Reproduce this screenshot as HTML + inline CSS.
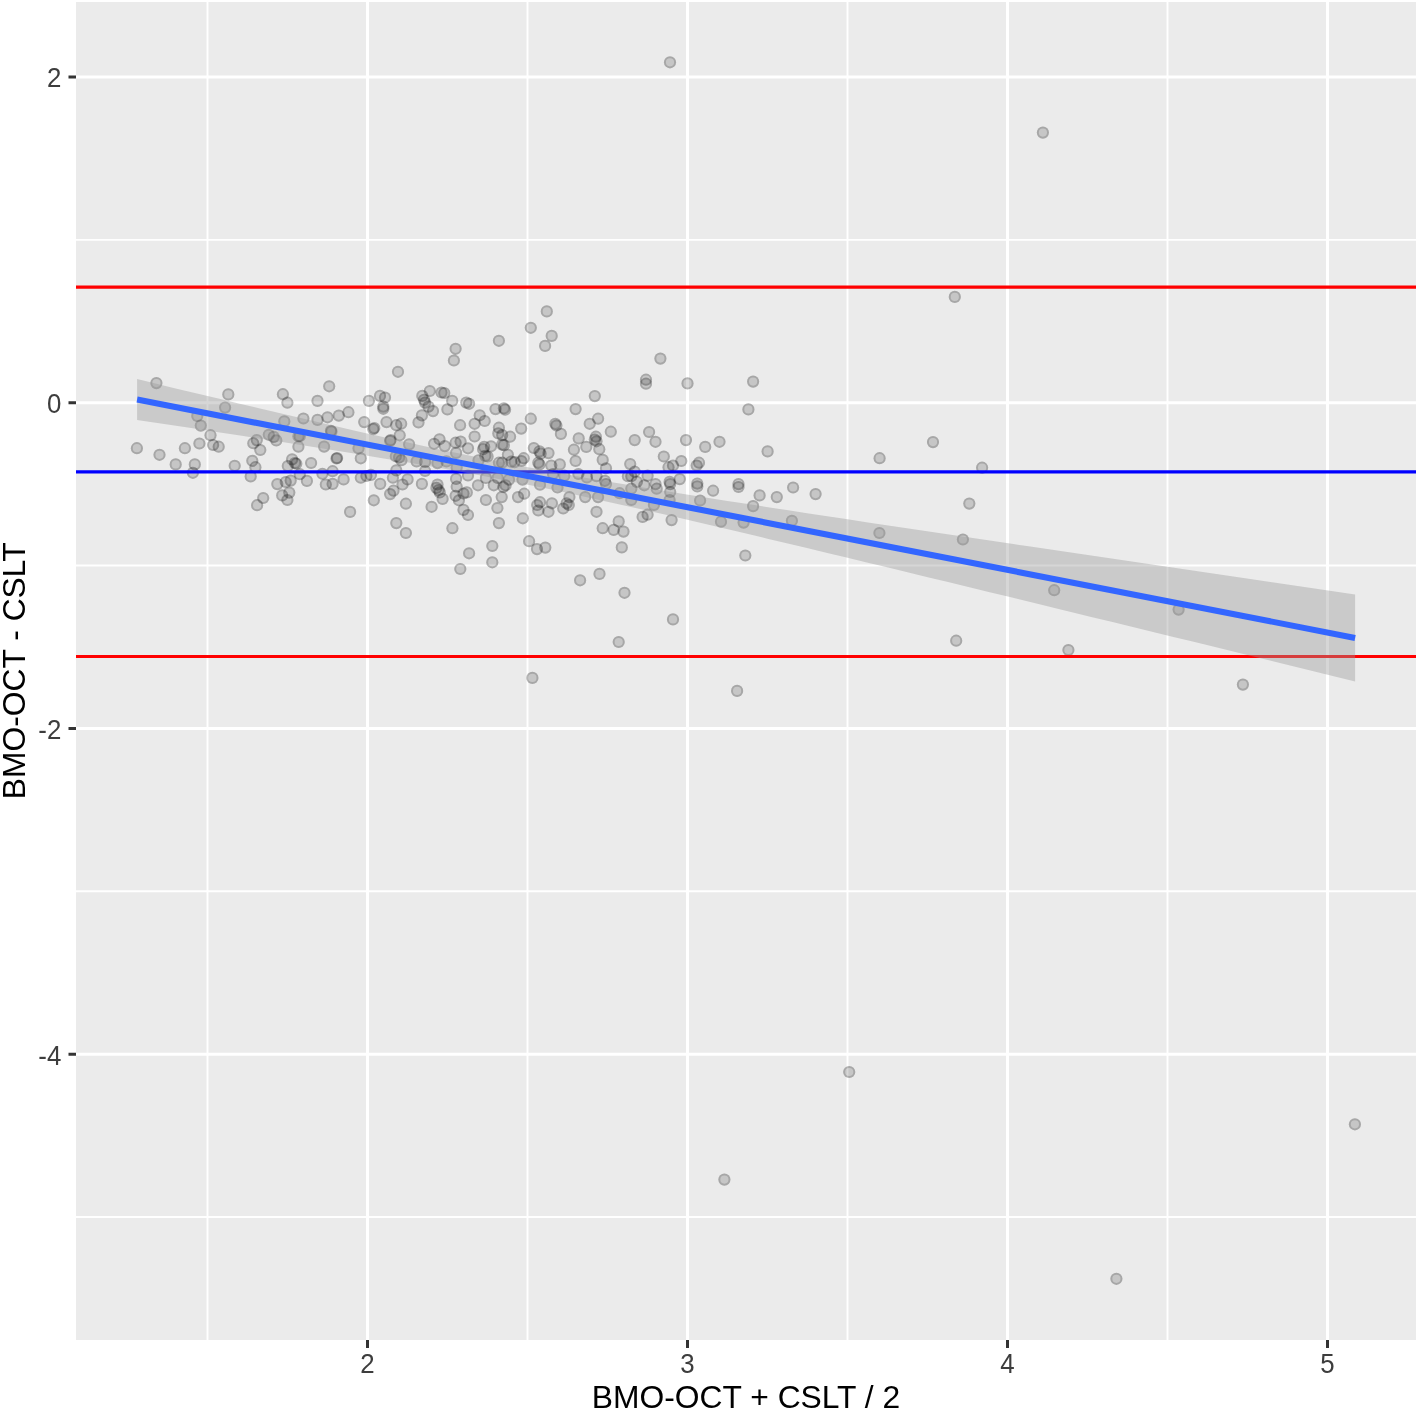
<!DOCTYPE html><html><head><meta charset="utf-8"><style>html,body{margin:0;padding:0;background:#fff;}svg{display:block;}</style></head><body>
<svg width="1418" height="1411" viewBox="0 0 1418 1411" font-family="'Liberation Sans', Arial, sans-serif">
<rect x="0" y="0" width="1418" height="1411" fill="#fff"/>
<defs><clipPath id="cp"><rect x="76" y="2" width="1340" height="1338"/></clipPath></defs>
<rect x="76" y="2" width="1340" height="1338" fill="#EBEBEB"/>
<g clip-path="url(#cp)">
<path d="M207.50 2V1340M527.50 2V1340M847.50 2V1340M1167.50 2V1340M76 239.83H1416M76 565.57H1416M76 891.31H1416M76 1217.05H1416" stroke="#fff" stroke-width="1.9" fill="none"/>
<path d="M367.50 2V1340M687.50 2V1340M1007.50 2V1340M1327.50 2V1340M76 76.96H1416M76 402.70H1416M76 728.44H1416M76 1054.18H1416" stroke="#fff" stroke-width="3" fill="none"/>
<g fill="rgba(0,0,0,0.155)" stroke="none">
<circle cx="156.4" cy="383.1" r="6.1"/>
<circle cx="228.3" cy="394.4" r="6.1"/>
<circle cx="225.1" cy="407.6" r="6.1"/>
<circle cx="282.9" cy="394.2" r="6.1"/>
<circle cx="287.4" cy="402.7" r="6.1"/>
<circle cx="317.5" cy="400.9" r="6.1"/>
<circle cx="197.3" cy="415.9" r="6.1"/>
<circle cx="200.8" cy="425.6" r="6.1"/>
<circle cx="210.5" cy="435.2" r="6.1"/>
<circle cx="199.4" cy="443.5" r="6.1"/>
<circle cx="213.1" cy="445.0" r="6.1"/>
<circle cx="218.7" cy="446.7" r="6.1"/>
<circle cx="136.9" cy="448.2" r="6.1"/>
<circle cx="159.5" cy="454.8" r="6.1"/>
<circle cx="184.9" cy="448.2" r="6.1"/>
<circle cx="175.7" cy="464.4" r="6.1"/>
<circle cx="194.8" cy="464.4" r="6.1"/>
<circle cx="192.9" cy="472.8" r="6.1"/>
<circle cx="234.7" cy="465.8" r="6.1"/>
<circle cx="252.3" cy="460.8" r="6.1"/>
<circle cx="255.4" cy="467.2" r="6.1"/>
<circle cx="250.7" cy="476.4" r="6.1"/>
<circle cx="253.3" cy="443.2" r="6.1"/>
<circle cx="256.8" cy="440.1" r="6.1"/>
<circle cx="260.3" cy="450.0" r="6.1"/>
<circle cx="268.8" cy="434.8" r="6.1"/>
<circle cx="273.7" cy="436.9" r="6.1"/>
<circle cx="276.3" cy="440.4" r="6.1"/>
<circle cx="284.3" cy="421.4" r="6.1"/>
<circle cx="303.4" cy="418.5" r="6.1"/>
<circle cx="298.4" cy="436.2" r="6.1"/>
<circle cx="299.8" cy="436.2" r="6.1"/>
<circle cx="298.4" cy="446.7" r="6.1"/>
<circle cx="317.5" cy="419.9" r="6.1"/>
<circle cx="292.1" cy="459.4" r="6.1"/>
<circle cx="294.9" cy="463.0" r="6.1"/>
<circle cx="296.3" cy="463.7" r="6.1"/>
<circle cx="287.8" cy="466.1" r="6.1"/>
<circle cx="311.1" cy="463.0" r="6.1"/>
<circle cx="299.8" cy="474.2" r="6.1"/>
<circle cx="306.9" cy="480.9" r="6.1"/>
<circle cx="277.3" cy="484.1" r="6.1"/>
<circle cx="285.7" cy="482.0" r="6.1"/>
<circle cx="290.7" cy="480.6" r="6.1"/>
<circle cx="289.3" cy="492.6" r="6.1"/>
<circle cx="282.2" cy="495.4" r="6.1"/>
<circle cx="263.2" cy="498.0" r="6.1"/>
<circle cx="287.4" cy="500.0" r="6.1"/>
<circle cx="257.1" cy="505.2" r="6.1"/>
<circle cx="455.6" cy="348.8" r="6.1"/>
<circle cx="453.9" cy="360.5" r="6.1"/>
<circle cx="398.0" cy="371.8" r="6.1"/>
<circle cx="329.2" cy="386.3" r="6.1"/>
<circle cx="368.9" cy="400.9" r="6.1"/>
<circle cx="380.0" cy="395.9" r="6.1"/>
<circle cx="385.0" cy="397.5" r="6.1"/>
<circle cx="383.3" cy="406.6" r="6.1"/>
<circle cx="383.3" cy="408.8" r="6.1"/>
<circle cx="422.3" cy="395.9" r="6.1"/>
<circle cx="424.0" cy="399.8" r="6.1"/>
<circle cx="425.1" cy="402.6" r="6.1"/>
<circle cx="429.8" cy="391.0" r="6.1"/>
<circle cx="441.5" cy="392.5" r="6.1"/>
<circle cx="444.3" cy="393.0" r="6.1"/>
<circle cx="452.2" cy="400.9" r="6.1"/>
<circle cx="466.3" cy="402.6" r="6.1"/>
<circle cx="469.1" cy="403.8" r="6.1"/>
<circle cx="428.5" cy="406.6" r="6.1"/>
<circle cx="433.0" cy="411.1" r="6.1"/>
<circle cx="447.4" cy="409.4" r="6.1"/>
<circle cx="421.9" cy="415.4" r="6.1"/>
<circle cx="418.5" cy="422.4" r="6.1"/>
<circle cx="348.4" cy="412.2" r="6.1"/>
<circle cx="338.8" cy="415.6" r="6.1"/>
<circle cx="327.5" cy="417.3" r="6.1"/>
<circle cx="364.2" cy="422.1" r="6.1"/>
<circle cx="386.5" cy="422.1" r="6.1"/>
<circle cx="396.3" cy="425.2" r="6.1"/>
<circle cx="401.2" cy="423.7" r="6.1"/>
<circle cx="373.2" cy="429.1" r="6.1"/>
<circle cx="374.3" cy="428.0" r="6.1"/>
<circle cx="330.9" cy="430.8" r="6.1"/>
<circle cx="390.1" cy="441.0" r="6.1"/>
<circle cx="390.6" cy="440.0" r="6.1"/>
<circle cx="399.7" cy="435.3" r="6.1"/>
<circle cx="409.1" cy="444.4" r="6.1"/>
<circle cx="460.1" cy="425.2" r="6.1"/>
<circle cx="439.5" cy="439.3" r="6.1"/>
<circle cx="434.1" cy="443.8" r="6.1"/>
<circle cx="444.8" cy="446.1" r="6.1"/>
<circle cx="455.6" cy="442.7" r="6.1"/>
<circle cx="460.6" cy="441.6" r="6.1"/>
<circle cx="468.0" cy="448.3" r="6.1"/>
<circle cx="324.1" cy="446.6" r="6.1"/>
<circle cx="358.5" cy="448.3" r="6.1"/>
<circle cx="337.1" cy="458.0" r="6.1"/>
<circle cx="336.5" cy="458.5" r="6.1"/>
<circle cx="360.8" cy="458.3" r="6.1"/>
<circle cx="322.4" cy="473.8" r="6.1"/>
<circle cx="332.6" cy="471.2" r="6.1"/>
<circle cx="325.8" cy="484.5" r="6.1"/>
<circle cx="332.6" cy="483.9" r="6.1"/>
<circle cx="343.6" cy="479.4" r="6.1"/>
<circle cx="360.8" cy="477.7" r="6.1"/>
<circle cx="366.4" cy="476.0" r="6.1"/>
<circle cx="370.9" cy="474.9" r="6.1"/>
<circle cx="380.2" cy="483.9" r="6.1"/>
<circle cx="396.3" cy="470.4" r="6.1"/>
<circle cx="392.9" cy="477.7" r="6.1"/>
<circle cx="399.1" cy="457.4" r="6.1"/>
<circle cx="401.4" cy="460.2" r="6.1"/>
<circle cx="395.8" cy="456.3" r="6.1"/>
<circle cx="407.6" cy="479.4" r="6.1"/>
<circle cx="402.5" cy="484.5" r="6.1"/>
<circle cx="393.5" cy="490.7" r="6.1"/>
<circle cx="390.1" cy="494.1" r="6.1"/>
<circle cx="416.6" cy="461.4" r="6.1"/>
<circle cx="425.1" cy="471.0" r="6.1"/>
<circle cx="425.1" cy="461.9" r="6.1"/>
<circle cx="421.9" cy="483.9" r="6.1"/>
<circle cx="437.5" cy="484.5" r="6.1"/>
<circle cx="436.4" cy="487.9" r="6.1"/>
<circle cx="438.6" cy="490.1" r="6.1"/>
<circle cx="439.8" cy="492.4" r="6.1"/>
<circle cx="442.6" cy="498.9" r="6.1"/>
<circle cx="437.5" cy="463.1" r="6.1"/>
<circle cx="446.5" cy="461.4" r="6.1"/>
<circle cx="456.1" cy="478.9" r="6.1"/>
<circle cx="456.7" cy="486.7" r="6.1"/>
<circle cx="455.6" cy="495.8" r="6.1"/>
<circle cx="463.5" cy="493.5" r="6.1"/>
<circle cx="466.8" cy="492.4" r="6.1"/>
<circle cx="458.9" cy="500.3" r="6.1"/>
<circle cx="463.5" cy="509.9" r="6.1"/>
<circle cx="468.0" cy="515.0" r="6.1"/>
<circle cx="456.1" cy="452.9" r="6.1"/>
<circle cx="456.7" cy="467.6" r="6.1"/>
<circle cx="468.0" cy="475.5" r="6.1"/>
<circle cx="373.8" cy="500.3" r="6.1"/>
<circle cx="405.9" cy="503.7" r="6.1"/>
<circle cx="431.6" cy="506.8" r="6.1"/>
<circle cx="350.1" cy="511.9" r="6.1"/>
<circle cx="396.3" cy="523.1" r="6.1"/>
<circle cx="405.9" cy="533.0" r="6.1"/>
<circle cx="452.4" cy="528.2" r="6.1"/>
<circle cx="469.1" cy="553.3" r="6.1"/>
<circle cx="460.3" cy="569.0" r="6.1"/>
<circle cx="670.0" cy="62.3" r="6.1"/>
<circle cx="546.8" cy="311.4" r="6.1"/>
<circle cx="530.8" cy="327.8" r="6.1"/>
<circle cx="551.7" cy="335.9" r="6.1"/>
<circle cx="545.1" cy="345.9" r="6.1"/>
<circle cx="498.9" cy="340.8" r="6.1"/>
<circle cx="594.8" cy="396.1" r="6.1"/>
<circle cx="495.5" cy="409.1" r="6.1"/>
<circle cx="503.9" cy="408.3" r="6.1"/>
<circle cx="505.1" cy="409.7" r="6.1"/>
<circle cx="575.6" cy="409.1" r="6.1"/>
<circle cx="479.7" cy="415.3" r="6.1"/>
<circle cx="484.7" cy="421.0" r="6.1"/>
<circle cx="474.6" cy="423.8" r="6.1"/>
<circle cx="530.8" cy="418.7" r="6.1"/>
<circle cx="521.2" cy="428.6" r="6.1"/>
<circle cx="498.9" cy="427.7" r="6.1"/>
<circle cx="498.3" cy="433.4" r="6.1"/>
<circle cx="502.2" cy="435.1" r="6.1"/>
<circle cx="510.1" cy="436.7" r="6.1"/>
<circle cx="474.6" cy="436.5" r="6.1"/>
<circle cx="555.3" cy="423.8" r="6.1"/>
<circle cx="556.4" cy="425.5" r="6.1"/>
<circle cx="560.9" cy="433.9" r="6.1"/>
<circle cx="589.7" cy="423.8" r="6.1"/>
<circle cx="598.1" cy="418.7" r="6.1"/>
<circle cx="610.8" cy="431.7" r="6.1"/>
<circle cx="578.7" cy="438.4" r="6.1"/>
<circle cx="595.9" cy="436.7" r="6.1"/>
<circle cx="594.8" cy="439.6" r="6.1"/>
<circle cx="596.5" cy="441.3" r="6.1"/>
<circle cx="586.3" cy="446.9" r="6.1"/>
<circle cx="573.9" cy="449.7" r="6.1"/>
<circle cx="599.3" cy="449.2" r="6.1"/>
<circle cx="602.7" cy="459.9" r="6.1"/>
<circle cx="575.6" cy="461.0" r="6.1"/>
<circle cx="606.0" cy="468.3" r="6.1"/>
<circle cx="604.9" cy="480.8" r="6.1"/>
<circle cx="606.0" cy="484.1" r="6.1"/>
<circle cx="619.6" cy="493.2" r="6.1"/>
<circle cx="598.1" cy="497.1" r="6.1"/>
<circle cx="585.2" cy="497.1" r="6.1"/>
<circle cx="569.4" cy="497.1" r="6.1"/>
<circle cx="566.6" cy="503.3" r="6.1"/>
<circle cx="568.8" cy="505.0" r="6.1"/>
<circle cx="551.9" cy="503.3" r="6.1"/>
<circle cx="540.0" cy="502.2" r="6.1"/>
<circle cx="537.2" cy="505.0" r="6.1"/>
<circle cx="557.5" cy="487.5" r="6.1"/>
<circle cx="564.3" cy="475.7" r="6.1"/>
<circle cx="578.4" cy="474.0" r="6.1"/>
<circle cx="586.9" cy="477.4" r="6.1"/>
<circle cx="596.5" cy="476.2" r="6.1"/>
<circle cx="540.0" cy="484.7" r="6.1"/>
<circle cx="553.0" cy="474.0" r="6.1"/>
<circle cx="551.3" cy="465.5" r="6.1"/>
<circle cx="559.8" cy="464.4" r="6.1"/>
<circle cx="539.5" cy="464.4" r="6.1"/>
<circle cx="538.3" cy="462.7" r="6.1"/>
<circle cx="533.8" cy="448.0" r="6.1"/>
<circle cx="539.5" cy="451.4" r="6.1"/>
<circle cx="540.6" cy="453.7" r="6.1"/>
<circle cx="548.5" cy="453.1" r="6.1"/>
<circle cx="523.7" cy="458.2" r="6.1"/>
<circle cx="521.4" cy="461.0" r="6.1"/>
<circle cx="514.6" cy="462.1" r="6.1"/>
<circle cx="511.3" cy="461.6" r="6.1"/>
<circle cx="507.9" cy="454.8" r="6.1"/>
<circle cx="502.2" cy="462.7" r="6.1"/>
<circle cx="498.9" cy="462.7" r="6.1"/>
<circle cx="503.9" cy="445.2" r="6.1"/>
<circle cx="502.2" cy="444.6" r="6.1"/>
<circle cx="491.0" cy="446.3" r="6.1"/>
<circle cx="484.2" cy="446.9" r="6.1"/>
<circle cx="483.1" cy="449.2" r="6.1"/>
<circle cx="487.6" cy="456.5" r="6.1"/>
<circle cx="485.3" cy="455.9" r="6.1"/>
<circle cx="478.5" cy="460.4" r="6.1"/>
<circle cx="485.9" cy="477.9" r="6.1"/>
<circle cx="478.0" cy="485.3" r="6.1"/>
<circle cx="493.8" cy="485.3" r="6.1"/>
<circle cx="503.4" cy="487.0" r="6.1"/>
<circle cx="505.6" cy="485.3" r="6.1"/>
<circle cx="509.0" cy="479.6" r="6.1"/>
<circle cx="497.7" cy="477.9" r="6.1"/>
<circle cx="522.5" cy="479.6" r="6.1"/>
<circle cx="501.7" cy="497.1" r="6.1"/>
<circle cx="518.0" cy="497.1" r="6.1"/>
<circle cx="524.2" cy="493.7" r="6.1"/>
<circle cx="485.9" cy="500.0" r="6.1"/>
<circle cx="497.4" cy="508.0" r="6.1"/>
<circle cx="538.3" cy="510.5" r="6.1"/>
<circle cx="548.5" cy="511.8" r="6.1"/>
<circle cx="563.2" cy="508.5" r="6.1"/>
<circle cx="522.8" cy="518.3" r="6.1"/>
<circle cx="498.9" cy="523.1" r="6.1"/>
<circle cx="596.5" cy="511.8" r="6.1"/>
<circle cx="602.7" cy="528.2" r="6.1"/>
<circle cx="613.7" cy="529.9" r="6.1"/>
<circle cx="618.7" cy="521.4" r="6.1"/>
<circle cx="623.5" cy="531.6" r="6.1"/>
<circle cx="621.8" cy="547.4" r="6.1"/>
<circle cx="529.1" cy="541.2" r="6.1"/>
<circle cx="537.0" cy="549.1" r="6.1"/>
<circle cx="545.3" cy="547.6" r="6.1"/>
<circle cx="492.3" cy="546.0" r="6.1"/>
<circle cx="492.3" cy="562.3" r="6.1"/>
<circle cx="580.1" cy="580.3" r="6.1"/>
<circle cx="599.5" cy="573.9" r="6.1"/>
<circle cx="624.5" cy="592.8" r="6.1"/>
<circle cx="532.4" cy="677.9" r="6.1"/>
<circle cx="618.7" cy="642.0" r="6.1"/>
<circle cx="660.4" cy="358.6" r="6.1"/>
<circle cx="646.0" cy="379.7" r="6.1"/>
<circle cx="646.0" cy="383.7" r="6.1"/>
<circle cx="687.5" cy="383.4" r="6.1"/>
<circle cx="753.1" cy="381.6" r="6.1"/>
<circle cx="748.4" cy="409.4" r="6.1"/>
<circle cx="649.1" cy="432.0" r="6.1"/>
<circle cx="634.7" cy="440.1" r="6.1"/>
<circle cx="655.5" cy="441.8" r="6.1"/>
<circle cx="686.0" cy="440.1" r="6.1"/>
<circle cx="705.2" cy="446.9" r="6.1"/>
<circle cx="719.5" cy="441.8" r="6.1"/>
<circle cx="767.6" cy="451.4" r="6.1"/>
<circle cx="663.8" cy="456.5" r="6.1"/>
<circle cx="681.3" cy="461.0" r="6.1"/>
<circle cx="673.0" cy="465.5" r="6.1"/>
<circle cx="668.5" cy="467.2" r="6.1"/>
<circle cx="630.2" cy="464.1" r="6.1"/>
<circle cx="699.0" cy="462.7" r="6.1"/>
<circle cx="696.7" cy="465.5" r="6.1"/>
<circle cx="634.7" cy="471.7" r="6.1"/>
<circle cx="627.9" cy="476.2" r="6.1"/>
<circle cx="631.3" cy="476.2" r="6.1"/>
<circle cx="647.6" cy="475.7" r="6.1"/>
<circle cx="636.9" cy="481.9" r="6.1"/>
<circle cx="644.3" cy="485.3" r="6.1"/>
<circle cx="631.3" cy="488.7" r="6.1"/>
<circle cx="655.5" cy="484.1" r="6.1"/>
<circle cx="656.7" cy="488.7" r="6.1"/>
<circle cx="669.6" cy="481.9" r="6.1"/>
<circle cx="670.2" cy="484.1" r="6.1"/>
<circle cx="670.2" cy="492.0" r="6.1"/>
<circle cx="679.8" cy="479.1" r="6.1"/>
<circle cx="697.3" cy="483.6" r="6.1"/>
<circle cx="697.3" cy="486.4" r="6.1"/>
<circle cx="713.1" cy="490.7" r="6.1"/>
<circle cx="738.5" cy="484.1" r="6.1"/>
<circle cx="738.5" cy="487.0" r="6.1"/>
<circle cx="759.6" cy="495.4" r="6.1"/>
<circle cx="776.8" cy="497.1" r="6.1"/>
<circle cx="700.1" cy="500.5" r="6.1"/>
<circle cx="753.1" cy="506.1" r="6.1"/>
<circle cx="631.3" cy="500.0" r="6.1"/>
<circle cx="653.9" cy="505.0" r="6.1"/>
<circle cx="669.6" cy="500.0" r="6.1"/>
<circle cx="647.6" cy="514.7" r="6.1"/>
<circle cx="642.6" cy="516.9" r="6.1"/>
<circle cx="671.6" cy="520.1" r="6.1"/>
<circle cx="721.0" cy="521.7" r="6.1"/>
<circle cx="743.6" cy="522.6" r="6.1"/>
<circle cx="745.3" cy="555.5" r="6.1"/>
<circle cx="673.0" cy="619.4" r="6.1"/>
<circle cx="737.1" cy="690.9" r="6.1"/>
<circle cx="933.0" cy="442.1" r="6.1"/>
<circle cx="879.6" cy="458.2" r="6.1"/>
<circle cx="793.1" cy="487.5" r="6.1"/>
<circle cx="815.6" cy="494.1" r="6.1"/>
<circle cx="791.9" cy="520.8" r="6.1"/>
<circle cx="879.4" cy="533.0" r="6.1"/>
<circle cx="982.1" cy="467.7" r="6.1"/>
<circle cx="969.3" cy="503.6" r="6.1"/>
<circle cx="962.9" cy="539.5" r="6.1"/>
<circle cx="1054.2" cy="590.2" r="6.1"/>
<circle cx="956.2" cy="640.7" r="6.1"/>
<circle cx="1068.4" cy="650.0" r="6.1"/>
<circle cx="954.8" cy="296.9" r="6.1"/>
<circle cx="1178.6" cy="609.6" r="6.1"/>
<circle cx="1242.9" cy="684.6" r="6.1"/>
<circle cx="1042.9" cy="132.6" r="6.1"/>
<circle cx="849.2" cy="1072.0" r="6.1"/>
<circle cx="724.4" cy="1179.6" r="6.1"/>
<circle cx="1354.9" cy="1124.3" r="6.1"/>
<circle cx="1116.4" cy="1278.8" r="6.1"/>
<circle cx="331.5" cy="431.5" r="6.1"/>
</g>
<g fill="none" stroke="rgba(0,0,0,0.155)" stroke-width="2.0">
<circle cx="156.4" cy="383.1" r="5.10"/>
<circle cx="228.3" cy="394.4" r="5.10"/>
<circle cx="225.1" cy="407.6" r="5.10"/>
<circle cx="282.9" cy="394.2" r="5.10"/>
<circle cx="287.4" cy="402.7" r="5.10"/>
<circle cx="317.5" cy="400.9" r="5.10"/>
<circle cx="197.3" cy="415.9" r="5.10"/>
<circle cx="200.8" cy="425.6" r="5.10"/>
<circle cx="210.5" cy="435.2" r="5.10"/>
<circle cx="199.4" cy="443.5" r="5.10"/>
<circle cx="213.1" cy="445.0" r="5.10"/>
<circle cx="218.7" cy="446.7" r="5.10"/>
<circle cx="136.9" cy="448.2" r="5.10"/>
<circle cx="159.5" cy="454.8" r="5.10"/>
<circle cx="184.9" cy="448.2" r="5.10"/>
<circle cx="175.7" cy="464.4" r="5.10"/>
<circle cx="194.8" cy="464.4" r="5.10"/>
<circle cx="192.9" cy="472.8" r="5.10"/>
<circle cx="234.7" cy="465.8" r="5.10"/>
<circle cx="252.3" cy="460.8" r="5.10"/>
<circle cx="255.4" cy="467.2" r="5.10"/>
<circle cx="250.7" cy="476.4" r="5.10"/>
<circle cx="253.3" cy="443.2" r="5.10"/>
<circle cx="256.8" cy="440.1" r="5.10"/>
<circle cx="260.3" cy="450.0" r="5.10"/>
<circle cx="268.8" cy="434.8" r="5.10"/>
<circle cx="273.7" cy="436.9" r="5.10"/>
<circle cx="276.3" cy="440.4" r="5.10"/>
<circle cx="284.3" cy="421.4" r="5.10"/>
<circle cx="303.4" cy="418.5" r="5.10"/>
<circle cx="298.4" cy="436.2" r="5.10"/>
<circle cx="299.8" cy="436.2" r="5.10"/>
<circle cx="298.4" cy="446.7" r="5.10"/>
<circle cx="317.5" cy="419.9" r="5.10"/>
<circle cx="292.1" cy="459.4" r="5.10"/>
<circle cx="294.9" cy="463.0" r="5.10"/>
<circle cx="296.3" cy="463.7" r="5.10"/>
<circle cx="287.8" cy="466.1" r="5.10"/>
<circle cx="311.1" cy="463.0" r="5.10"/>
<circle cx="299.8" cy="474.2" r="5.10"/>
<circle cx="306.9" cy="480.9" r="5.10"/>
<circle cx="277.3" cy="484.1" r="5.10"/>
<circle cx="285.7" cy="482.0" r="5.10"/>
<circle cx="290.7" cy="480.6" r="5.10"/>
<circle cx="289.3" cy="492.6" r="5.10"/>
<circle cx="282.2" cy="495.4" r="5.10"/>
<circle cx="263.2" cy="498.0" r="5.10"/>
<circle cx="287.4" cy="500.0" r="5.10"/>
<circle cx="257.1" cy="505.2" r="5.10"/>
<circle cx="455.6" cy="348.8" r="5.10"/>
<circle cx="453.9" cy="360.5" r="5.10"/>
<circle cx="398.0" cy="371.8" r="5.10"/>
<circle cx="329.2" cy="386.3" r="5.10"/>
<circle cx="368.9" cy="400.9" r="5.10"/>
<circle cx="380.0" cy="395.9" r="5.10"/>
<circle cx="385.0" cy="397.5" r="5.10"/>
<circle cx="383.3" cy="406.6" r="5.10"/>
<circle cx="383.3" cy="408.8" r="5.10"/>
<circle cx="422.3" cy="395.9" r="5.10"/>
<circle cx="424.0" cy="399.8" r="5.10"/>
<circle cx="425.1" cy="402.6" r="5.10"/>
<circle cx="429.8" cy="391.0" r="5.10"/>
<circle cx="441.5" cy="392.5" r="5.10"/>
<circle cx="444.3" cy="393.0" r="5.10"/>
<circle cx="452.2" cy="400.9" r="5.10"/>
<circle cx="466.3" cy="402.6" r="5.10"/>
<circle cx="469.1" cy="403.8" r="5.10"/>
<circle cx="428.5" cy="406.6" r="5.10"/>
<circle cx="433.0" cy="411.1" r="5.10"/>
<circle cx="447.4" cy="409.4" r="5.10"/>
<circle cx="421.9" cy="415.4" r="5.10"/>
<circle cx="418.5" cy="422.4" r="5.10"/>
<circle cx="348.4" cy="412.2" r="5.10"/>
<circle cx="338.8" cy="415.6" r="5.10"/>
<circle cx="327.5" cy="417.3" r="5.10"/>
<circle cx="364.2" cy="422.1" r="5.10"/>
<circle cx="386.5" cy="422.1" r="5.10"/>
<circle cx="396.3" cy="425.2" r="5.10"/>
<circle cx="401.2" cy="423.7" r="5.10"/>
<circle cx="373.2" cy="429.1" r="5.10"/>
<circle cx="374.3" cy="428.0" r="5.10"/>
<circle cx="330.9" cy="430.8" r="5.10"/>
<circle cx="390.1" cy="441.0" r="5.10"/>
<circle cx="390.6" cy="440.0" r="5.10"/>
<circle cx="399.7" cy="435.3" r="5.10"/>
<circle cx="409.1" cy="444.4" r="5.10"/>
<circle cx="460.1" cy="425.2" r="5.10"/>
<circle cx="439.5" cy="439.3" r="5.10"/>
<circle cx="434.1" cy="443.8" r="5.10"/>
<circle cx="444.8" cy="446.1" r="5.10"/>
<circle cx="455.6" cy="442.7" r="5.10"/>
<circle cx="460.6" cy="441.6" r="5.10"/>
<circle cx="468.0" cy="448.3" r="5.10"/>
<circle cx="324.1" cy="446.6" r="5.10"/>
<circle cx="358.5" cy="448.3" r="5.10"/>
<circle cx="337.1" cy="458.0" r="5.10"/>
<circle cx="336.5" cy="458.5" r="5.10"/>
<circle cx="360.8" cy="458.3" r="5.10"/>
<circle cx="322.4" cy="473.8" r="5.10"/>
<circle cx="332.6" cy="471.2" r="5.10"/>
<circle cx="325.8" cy="484.5" r="5.10"/>
<circle cx="332.6" cy="483.9" r="5.10"/>
<circle cx="343.6" cy="479.4" r="5.10"/>
<circle cx="360.8" cy="477.7" r="5.10"/>
<circle cx="366.4" cy="476.0" r="5.10"/>
<circle cx="370.9" cy="474.9" r="5.10"/>
<circle cx="380.2" cy="483.9" r="5.10"/>
<circle cx="396.3" cy="470.4" r="5.10"/>
<circle cx="392.9" cy="477.7" r="5.10"/>
<circle cx="399.1" cy="457.4" r="5.10"/>
<circle cx="401.4" cy="460.2" r="5.10"/>
<circle cx="395.8" cy="456.3" r="5.10"/>
<circle cx="407.6" cy="479.4" r="5.10"/>
<circle cx="402.5" cy="484.5" r="5.10"/>
<circle cx="393.5" cy="490.7" r="5.10"/>
<circle cx="390.1" cy="494.1" r="5.10"/>
<circle cx="416.6" cy="461.4" r="5.10"/>
<circle cx="425.1" cy="471.0" r="5.10"/>
<circle cx="425.1" cy="461.9" r="5.10"/>
<circle cx="421.9" cy="483.9" r="5.10"/>
<circle cx="437.5" cy="484.5" r="5.10"/>
<circle cx="436.4" cy="487.9" r="5.10"/>
<circle cx="438.6" cy="490.1" r="5.10"/>
<circle cx="439.8" cy="492.4" r="5.10"/>
<circle cx="442.6" cy="498.9" r="5.10"/>
<circle cx="437.5" cy="463.1" r="5.10"/>
<circle cx="446.5" cy="461.4" r="5.10"/>
<circle cx="456.1" cy="478.9" r="5.10"/>
<circle cx="456.7" cy="486.7" r="5.10"/>
<circle cx="455.6" cy="495.8" r="5.10"/>
<circle cx="463.5" cy="493.5" r="5.10"/>
<circle cx="466.8" cy="492.4" r="5.10"/>
<circle cx="458.9" cy="500.3" r="5.10"/>
<circle cx="463.5" cy="509.9" r="5.10"/>
<circle cx="468.0" cy="515.0" r="5.10"/>
<circle cx="456.1" cy="452.9" r="5.10"/>
<circle cx="456.7" cy="467.6" r="5.10"/>
<circle cx="468.0" cy="475.5" r="5.10"/>
<circle cx="373.8" cy="500.3" r="5.10"/>
<circle cx="405.9" cy="503.7" r="5.10"/>
<circle cx="431.6" cy="506.8" r="5.10"/>
<circle cx="350.1" cy="511.9" r="5.10"/>
<circle cx="396.3" cy="523.1" r="5.10"/>
<circle cx="405.9" cy="533.0" r="5.10"/>
<circle cx="452.4" cy="528.2" r="5.10"/>
<circle cx="469.1" cy="553.3" r="5.10"/>
<circle cx="460.3" cy="569.0" r="5.10"/>
<circle cx="670.0" cy="62.3" r="5.10"/>
<circle cx="546.8" cy="311.4" r="5.10"/>
<circle cx="530.8" cy="327.8" r="5.10"/>
<circle cx="551.7" cy="335.9" r="5.10"/>
<circle cx="545.1" cy="345.9" r="5.10"/>
<circle cx="498.9" cy="340.8" r="5.10"/>
<circle cx="594.8" cy="396.1" r="5.10"/>
<circle cx="495.5" cy="409.1" r="5.10"/>
<circle cx="503.9" cy="408.3" r="5.10"/>
<circle cx="505.1" cy="409.7" r="5.10"/>
<circle cx="575.6" cy="409.1" r="5.10"/>
<circle cx="479.7" cy="415.3" r="5.10"/>
<circle cx="484.7" cy="421.0" r="5.10"/>
<circle cx="474.6" cy="423.8" r="5.10"/>
<circle cx="530.8" cy="418.7" r="5.10"/>
<circle cx="521.2" cy="428.6" r="5.10"/>
<circle cx="498.9" cy="427.7" r="5.10"/>
<circle cx="498.3" cy="433.4" r="5.10"/>
<circle cx="502.2" cy="435.1" r="5.10"/>
<circle cx="510.1" cy="436.7" r="5.10"/>
<circle cx="474.6" cy="436.5" r="5.10"/>
<circle cx="555.3" cy="423.8" r="5.10"/>
<circle cx="556.4" cy="425.5" r="5.10"/>
<circle cx="560.9" cy="433.9" r="5.10"/>
<circle cx="589.7" cy="423.8" r="5.10"/>
<circle cx="598.1" cy="418.7" r="5.10"/>
<circle cx="610.8" cy="431.7" r="5.10"/>
<circle cx="578.7" cy="438.4" r="5.10"/>
<circle cx="595.9" cy="436.7" r="5.10"/>
<circle cx="594.8" cy="439.6" r="5.10"/>
<circle cx="596.5" cy="441.3" r="5.10"/>
<circle cx="586.3" cy="446.9" r="5.10"/>
<circle cx="573.9" cy="449.7" r="5.10"/>
<circle cx="599.3" cy="449.2" r="5.10"/>
<circle cx="602.7" cy="459.9" r="5.10"/>
<circle cx="575.6" cy="461.0" r="5.10"/>
<circle cx="606.0" cy="468.3" r="5.10"/>
<circle cx="604.9" cy="480.8" r="5.10"/>
<circle cx="606.0" cy="484.1" r="5.10"/>
<circle cx="619.6" cy="493.2" r="5.10"/>
<circle cx="598.1" cy="497.1" r="5.10"/>
<circle cx="585.2" cy="497.1" r="5.10"/>
<circle cx="569.4" cy="497.1" r="5.10"/>
<circle cx="566.6" cy="503.3" r="5.10"/>
<circle cx="568.8" cy="505.0" r="5.10"/>
<circle cx="551.9" cy="503.3" r="5.10"/>
<circle cx="540.0" cy="502.2" r="5.10"/>
<circle cx="537.2" cy="505.0" r="5.10"/>
<circle cx="557.5" cy="487.5" r="5.10"/>
<circle cx="564.3" cy="475.7" r="5.10"/>
<circle cx="578.4" cy="474.0" r="5.10"/>
<circle cx="586.9" cy="477.4" r="5.10"/>
<circle cx="596.5" cy="476.2" r="5.10"/>
<circle cx="540.0" cy="484.7" r="5.10"/>
<circle cx="553.0" cy="474.0" r="5.10"/>
<circle cx="551.3" cy="465.5" r="5.10"/>
<circle cx="559.8" cy="464.4" r="5.10"/>
<circle cx="539.5" cy="464.4" r="5.10"/>
<circle cx="538.3" cy="462.7" r="5.10"/>
<circle cx="533.8" cy="448.0" r="5.10"/>
<circle cx="539.5" cy="451.4" r="5.10"/>
<circle cx="540.6" cy="453.7" r="5.10"/>
<circle cx="548.5" cy="453.1" r="5.10"/>
<circle cx="523.7" cy="458.2" r="5.10"/>
<circle cx="521.4" cy="461.0" r="5.10"/>
<circle cx="514.6" cy="462.1" r="5.10"/>
<circle cx="511.3" cy="461.6" r="5.10"/>
<circle cx="507.9" cy="454.8" r="5.10"/>
<circle cx="502.2" cy="462.7" r="5.10"/>
<circle cx="498.9" cy="462.7" r="5.10"/>
<circle cx="503.9" cy="445.2" r="5.10"/>
<circle cx="502.2" cy="444.6" r="5.10"/>
<circle cx="491.0" cy="446.3" r="5.10"/>
<circle cx="484.2" cy="446.9" r="5.10"/>
<circle cx="483.1" cy="449.2" r="5.10"/>
<circle cx="487.6" cy="456.5" r="5.10"/>
<circle cx="485.3" cy="455.9" r="5.10"/>
<circle cx="478.5" cy="460.4" r="5.10"/>
<circle cx="485.9" cy="477.9" r="5.10"/>
<circle cx="478.0" cy="485.3" r="5.10"/>
<circle cx="493.8" cy="485.3" r="5.10"/>
<circle cx="503.4" cy="487.0" r="5.10"/>
<circle cx="505.6" cy="485.3" r="5.10"/>
<circle cx="509.0" cy="479.6" r="5.10"/>
<circle cx="497.7" cy="477.9" r="5.10"/>
<circle cx="522.5" cy="479.6" r="5.10"/>
<circle cx="501.7" cy="497.1" r="5.10"/>
<circle cx="518.0" cy="497.1" r="5.10"/>
<circle cx="524.2" cy="493.7" r="5.10"/>
<circle cx="485.9" cy="500.0" r="5.10"/>
<circle cx="497.4" cy="508.0" r="5.10"/>
<circle cx="538.3" cy="510.5" r="5.10"/>
<circle cx="548.5" cy="511.8" r="5.10"/>
<circle cx="563.2" cy="508.5" r="5.10"/>
<circle cx="522.8" cy="518.3" r="5.10"/>
<circle cx="498.9" cy="523.1" r="5.10"/>
<circle cx="596.5" cy="511.8" r="5.10"/>
<circle cx="602.7" cy="528.2" r="5.10"/>
<circle cx="613.7" cy="529.9" r="5.10"/>
<circle cx="618.7" cy="521.4" r="5.10"/>
<circle cx="623.5" cy="531.6" r="5.10"/>
<circle cx="621.8" cy="547.4" r="5.10"/>
<circle cx="529.1" cy="541.2" r="5.10"/>
<circle cx="537.0" cy="549.1" r="5.10"/>
<circle cx="545.3" cy="547.6" r="5.10"/>
<circle cx="492.3" cy="546.0" r="5.10"/>
<circle cx="492.3" cy="562.3" r="5.10"/>
<circle cx="580.1" cy="580.3" r="5.10"/>
<circle cx="599.5" cy="573.9" r="5.10"/>
<circle cx="624.5" cy="592.8" r="5.10"/>
<circle cx="532.4" cy="677.9" r="5.10"/>
<circle cx="618.7" cy="642.0" r="5.10"/>
<circle cx="660.4" cy="358.6" r="5.10"/>
<circle cx="646.0" cy="379.7" r="5.10"/>
<circle cx="646.0" cy="383.7" r="5.10"/>
<circle cx="687.5" cy="383.4" r="5.10"/>
<circle cx="753.1" cy="381.6" r="5.10"/>
<circle cx="748.4" cy="409.4" r="5.10"/>
<circle cx="649.1" cy="432.0" r="5.10"/>
<circle cx="634.7" cy="440.1" r="5.10"/>
<circle cx="655.5" cy="441.8" r="5.10"/>
<circle cx="686.0" cy="440.1" r="5.10"/>
<circle cx="705.2" cy="446.9" r="5.10"/>
<circle cx="719.5" cy="441.8" r="5.10"/>
<circle cx="767.6" cy="451.4" r="5.10"/>
<circle cx="663.8" cy="456.5" r="5.10"/>
<circle cx="681.3" cy="461.0" r="5.10"/>
<circle cx="673.0" cy="465.5" r="5.10"/>
<circle cx="668.5" cy="467.2" r="5.10"/>
<circle cx="630.2" cy="464.1" r="5.10"/>
<circle cx="699.0" cy="462.7" r="5.10"/>
<circle cx="696.7" cy="465.5" r="5.10"/>
<circle cx="634.7" cy="471.7" r="5.10"/>
<circle cx="627.9" cy="476.2" r="5.10"/>
<circle cx="631.3" cy="476.2" r="5.10"/>
<circle cx="647.6" cy="475.7" r="5.10"/>
<circle cx="636.9" cy="481.9" r="5.10"/>
<circle cx="644.3" cy="485.3" r="5.10"/>
<circle cx="631.3" cy="488.7" r="5.10"/>
<circle cx="655.5" cy="484.1" r="5.10"/>
<circle cx="656.7" cy="488.7" r="5.10"/>
<circle cx="669.6" cy="481.9" r="5.10"/>
<circle cx="670.2" cy="484.1" r="5.10"/>
<circle cx="670.2" cy="492.0" r="5.10"/>
<circle cx="679.8" cy="479.1" r="5.10"/>
<circle cx="697.3" cy="483.6" r="5.10"/>
<circle cx="697.3" cy="486.4" r="5.10"/>
<circle cx="713.1" cy="490.7" r="5.10"/>
<circle cx="738.5" cy="484.1" r="5.10"/>
<circle cx="738.5" cy="487.0" r="5.10"/>
<circle cx="759.6" cy="495.4" r="5.10"/>
<circle cx="776.8" cy="497.1" r="5.10"/>
<circle cx="700.1" cy="500.5" r="5.10"/>
<circle cx="753.1" cy="506.1" r="5.10"/>
<circle cx="631.3" cy="500.0" r="5.10"/>
<circle cx="653.9" cy="505.0" r="5.10"/>
<circle cx="669.6" cy="500.0" r="5.10"/>
<circle cx="647.6" cy="514.7" r="5.10"/>
<circle cx="642.6" cy="516.9" r="5.10"/>
<circle cx="671.6" cy="520.1" r="5.10"/>
<circle cx="721.0" cy="521.7" r="5.10"/>
<circle cx="743.6" cy="522.6" r="5.10"/>
<circle cx="745.3" cy="555.5" r="5.10"/>
<circle cx="673.0" cy="619.4" r="5.10"/>
<circle cx="737.1" cy="690.9" r="5.10"/>
<circle cx="933.0" cy="442.1" r="5.10"/>
<circle cx="879.6" cy="458.2" r="5.10"/>
<circle cx="793.1" cy="487.5" r="5.10"/>
<circle cx="815.6" cy="494.1" r="5.10"/>
<circle cx="791.9" cy="520.8" r="5.10"/>
<circle cx="879.4" cy="533.0" r="5.10"/>
<circle cx="982.1" cy="467.7" r="5.10"/>
<circle cx="969.3" cy="503.6" r="5.10"/>
<circle cx="962.9" cy="539.5" r="5.10"/>
<circle cx="1054.2" cy="590.2" r="5.10"/>
<circle cx="956.2" cy="640.7" r="5.10"/>
<circle cx="1068.4" cy="650.0" r="5.10"/>
<circle cx="954.8" cy="296.9" r="5.10"/>
<circle cx="1178.6" cy="609.6" r="5.10"/>
<circle cx="1242.9" cy="684.6" r="5.10"/>
<circle cx="1042.9" cy="132.6" r="5.10"/>
<circle cx="849.2" cy="1072.0" r="5.10"/>
<circle cx="724.4" cy="1179.6" r="5.10"/>
<circle cx="1354.9" cy="1124.3" r="5.10"/>
<circle cx="1116.4" cy="1278.8" r="5.10"/>
<circle cx="331.5" cy="431.5" r="5.10"/>
</g>
<path d="M76 287.1H1416M76 656.5H1416" stroke="#FF0000" stroke-width="3.1" fill="none"/>
<path d="M76 471.85H1416" stroke="#0000FF" stroke-width="3.1" fill="none"/>
<path d="M137.1 379.1 L157.4 384.0 L177.7 388.9 L198.0 393.8 L218.3 398.6 L238.6 403.4 L258.9 408.3 L279.2 413.1 L299.5 417.8 L319.8 422.6 L340.1 427.3 L360.4 431.9 L380.7 436.5 L401.0 441.0 L421.3 445.5 L441.6 449.9 L461.9 454.1 L482.2 458.3 L502.5 462.4 L522.8 466.3 L543.1 470.1 L563.4 473.8 L583.7 477.4 L604.0 480.9 L624.3 484.3 L644.6 487.7 L664.9 491.0 L685.2 494.3 L705.5 497.5 L725.8 500.7 L746.1 503.8 L766.4 507.0 L786.7 510.1 L807.0 513.2 L827.3 516.3 L847.6 519.3 L867.9 522.4 L888.2 525.5 L908.5 528.5 L928.8 531.5 L949.1 534.6 L969.4 537.6 L989.7 540.6 L1010.0 543.6 L1030.3 546.6 L1050.6 549.6 L1070.9 552.6 L1091.2 555.6 L1111.5 558.6 L1131.8 561.6 L1152.1 564.6 L1172.4 567.6 L1192.7 570.6 L1213.0 573.6 L1233.3 576.6 L1253.6 579.5 L1273.9 582.5 L1294.2 585.5 L1314.5 588.5 L1334.8 591.5 L1355.1 594.4 L1355.1 681.4 L1334.8 676.4 L1314.5 671.4 L1294.2 666.5 L1273.9 661.5 L1253.6 656.5 L1233.3 651.6 L1213.0 646.6 L1192.7 641.6 L1172.4 636.7 L1152.1 631.7 L1131.8 626.8 L1111.5 621.8 L1091.2 616.9 L1070.9 611.9 L1050.6 607.0 L1030.3 602.0 L1010.0 597.1 L989.7 592.2 L969.4 587.2 L949.1 582.3 L928.8 577.4 L908.5 572.5 L888.2 567.6 L867.9 562.7 L847.6 557.8 L827.3 552.9 L807.0 548.1 L786.7 543.2 L766.4 538.4 L746.1 533.6 L725.8 528.8 L705.5 524.0 L685.2 519.3 L664.9 514.6 L644.6 510.0 L624.3 505.4 L604.0 500.9 L583.7 496.4 L563.4 492.1 L543.1 487.8 L522.8 483.7 L502.5 479.7 L482.2 475.8 L461.9 472.0 L441.6 468.3 L421.3 464.8 L401.0 461.3 L380.7 457.9 L360.4 454.5 L340.1 451.2 L319.8 448.0 L299.5 444.7 L279.2 441.6 L258.9 438.4 L238.6 435.3 L218.3 432.2 L198.0 429.1 L177.7 426.0 L157.4 422.9 L137.1 419.9Z" fill="rgba(153,153,153,0.4)" stroke="none"/>
<path d="M137.1 399.50L1355.1 637.90" stroke="#3366FF" stroke-width="6.1" fill="none" stroke-linecap="butt"/>
</g>
<path d="M68.5 76.96H76M68.5 402.70H76M68.5 728.44H76M68.5 1054.18H76M367.50 1340V1347.9M687.50 1340V1347.9M1007.50 1340V1347.9M1327.50 1340V1347.9" stroke="#333333" stroke-width="3" fill="none"/>
<text transform="translate(61.3 87.45) scale(1.03 1.09)" font-size="25.1" fill="#3d3d3d" text-anchor="end">2</text>
<text transform="translate(61.3 413.19) scale(1.03 1.09)" font-size="25.1" fill="#3d3d3d" text-anchor="end">0</text>
<text transform="translate(61.3 738.93) scale(1.03 1.09)" font-size="25.1" fill="#3d3d3d" text-anchor="end">-2</text>
<text transform="translate(61.3 1064.67) scale(1.03 1.09)" font-size="25.1" fill="#3d3d3d" text-anchor="end">-4</text>
<text transform="translate(367.50 1373.14) scale(1.03 1.09)" font-size="25.1" fill="#3d3d3d" text-anchor="middle">2</text>
<text transform="translate(687.50 1373.14) scale(1.03 1.09)" font-size="25.1" fill="#3d3d3d" text-anchor="middle">3</text>
<text transform="translate(1007.50 1373.14) scale(1.03 1.09)" font-size="25.1" fill="#3d3d3d" text-anchor="middle">4</text>
<text transform="translate(1327.50 1373.14) scale(1.03 1.09)" font-size="25.1" fill="#3d3d3d" text-anchor="middle">5</text>
<text x="746" y="1408.2" font-size="31.8" fill="#000" text-anchor="middle">BMO-OCT + CSLT / 2</text>
<text transform="translate(25.0 670.8) rotate(-90)" x="0" y="0" font-size="31.8" fill="#000" text-anchor="middle">BMO-OCT - CSLT</text>
</svg></body></html>
